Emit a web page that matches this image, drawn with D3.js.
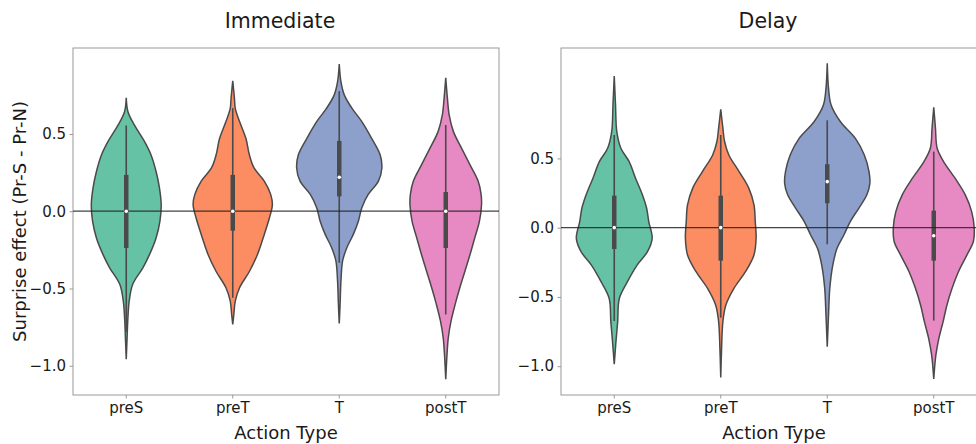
<!DOCTYPE html>
<html>
<head>
<meta charset="utf-8">
<script src="https://cdn.jsdelivr.net/npm/d3@7"></script>
<style>
  html, body { margin: 0; padding: 0; background: #fff; }
  svg { display: block; font-family: "DejaVu Sans", sans-serif; }
</style>
</head>
<body>
<svg id="chart" width="976" height="444"></svg>
<script>
// ---------- data ----------
const categories = ["preS", "preT", "T", "postT"];
const colors = ["#66c2a5", "#fc8d62", "#8da0cb", "#e78ac3"];
const panelTitles = ["Immediate", "Delay"];
const yTicks = [-1.0, -0.5, 0.0, 0.5];
const xLabel = "Action Type";
const yLabel = "Surprise effect (Pr-S - Pr-N)";

// violin outlines: [value, relative density]
const immPreS = [[0.734,0],[0.644,0.04],[0.558,0.19],[0.45,0.43],[0.365,0.58],[0.257,0.70],[0.15,0.78],[0.042,0.82],[-0.066,0.79],[-0.173,0.70],[-0.281,0.545],[-0.366,0.39],[-0.474,0.15],[-0.58,0.07],[-0.71,0.035],[-0.818,0.02],[-0.957,0]];
const immPreT = [[0.844,0],[0.73,0.04],[0.664,0.06],[0.58,0.16],[0.47,0.31],[0.365,0.39],[0.28,0.5],[0.195,0.74],[0.109,0.89],[0.042,0.93],[-0.044,0.86],[-0.15,0.74],[-0.28,0.58],[-0.39,0.39],[-0.495,0.16],[-0.58,0.06],[-0.67,0.025],[-0.732,0]];
const immT = [[0.952,0],[0.837,0.04],[0.751,0.12],[0.665,0.3],[0.58,0.53],[0.472,0.76],[0.365,0.96],[0.28,1.0],[0.195,0.92],[0.109,0.68],[0.023,0.53],[-0.063,0.45],[-0.15,0.33],[-0.235,0.18],[-0.32,0.08],[-0.45,0.04],[-0.6,0.02],[-0.727,0]];
const immPostT = [[0.863,0],[0.727,0.04],[0.623,0.08],[0.515,0.18],[0.408,0.37],[0.3,0.57],[0.195,0.76],[0.109,0.83],[0.042,0.84],[-0.066,0.79],[-0.173,0.68],[-0.28,0.57],[-0.388,0.45],[-0.495,0.33],[-0.603,0.22],[-0.71,0.125],[-0.818,0.06],[-0.925,0.03],[-1.087,0]];

const delPreS = [[1.095,0],[0.886,0.03],[0.693,0.06],[0.573,0.155],[0.477,0.35],[0.357,0.5],[0.237,0.66],[0.14,0.76],[0.044,0.81],[-0.077,0.89],[-0.173,0.78],[-0.269,0.54],[-0.39,0.31],[-0.51,0.12],[-0.68,0.08],[-0.823,0.04],[-0.986,0]];
const delPreT = [[0.855,0],[0.718,0.05],[0.622,0.09],[0.525,0.19],[0.405,0.43],[0.284,0.66],[0.164,0.78],[0.044,0.81],[-0.077,0.83],[-0.197,0.78],[-0.318,0.58],[-0.438,0.31],[-0.558,0.12],[-0.678,0.05],[-0.87,0.02],[-1.082,0]];
const delT = [[1.187,0],[1.006,0.03],[0.886,0.09],[0.765,0.31],[0.645,0.66],[0.525,0.87],[0.405,0.98],[0.32,1.0],[0.237,0.93],[0.14,0.74],[0.044,0.54],[-0.053,0.39],[-0.149,0.23],[-0.27,0.13],[-0.437,0.06],[-0.63,0.03],[-0.859,0]];
const delPostT = [[0.869,0],[0.718,0.04],[0.573,0.08],[0.477,0.23],[0.357,0.5],[0.237,0.74],[0.116,0.89],[-0.005,0.95],[-0.1,0.93],[-0.197,0.78],[-0.318,0.58],[-0.438,0.43],[-0.558,0.31],[-0.678,0.22],[-0.799,0.12],[-0.919,0.05],[-1.092,0]];

// box stats: [whiskerLow, q1, median, q3, whiskerHigh]
const immBoxes = [[-0.78,-0.238,0.0,0.235,0.555],[-0.56,-0.126,0.0,0.235,0.667],[-0.334,0.096,0.22,0.455,0.777],[-0.668,-0.238,0.0,0.124,0.558]];
const delBoxes = [[-0.674,-0.154,0.0,0.231,0.669],[-0.65,-0.238,0.0,0.231,0.669],[-0.12,0.176,0.332,0.458,0.775],[-0.671,-0.238,-0.058,0.123,0.549]];

const immDomain = [-1.189, 1.056];
const delDomain = [-1.208, 1.297];

// ---------- layout ----------
const svg = d3.select("#chart");
const panels = [
  { title: panelTitles[0], profiles: [immPreS, immPreT, immT, immPostT], boxes: immBoxes, domain: immDomain,
    left: 73, right: 499, titleX: 280, showYLabel: true },
  { title: panelTitles[1], profiles: [delPreS, delPreT, delT, delPostT], boxes: delBoxes, domain: delDomain,
    left: 561, right: 987, titleX: 768, showYLabel: false }
];
const plotTop = 48, plotBottom = 395;
const gray = "#4a4a4a";

panels.forEach(p => {
  const x = d3.scaleBand().domain(categories).range([p.left, p.right]).padding(0);
  const y = d3.scaleLinear().domain(p.domain).range([plotBottom, plotTop]);
  const w = d3.scaleLinear().domain([0, 1]).range([0, x.bandwidth() * 0.4]);
  const g = svg.append("g");

  // frame
  g.append("rect").attr("x", p.left).attr("y", plotTop)
    .attr("width", p.right - p.left).attr("height", plotBottom - plotTop)
    .attr("fill", "#fff").attr("stroke", "#999").attr("stroke-width", 1);

  // violins
  categories.forEach((c, i) => {
    const cx = x(c) + x.bandwidth() / 2;
    const area = d3.area()
      .y(d => y(d[0]))
      .x0(d => cx - w(d[1]))
      .x1(d => cx + w(d[1]))
      .curve(d3.curveCatmullRom.alpha(0.5));
    g.append("path").datum(p.profiles[i]).attr("d", area)
      .attr("fill", colors[i]).attr("stroke", gray).attr("stroke-width", 1.5);
  });

  // boxes
  categories.forEach((c, i) => {
    const cx = x(c) + x.bandwidth() / 2;
    const b = p.boxes[i];
    g.append("line").attr("x1", cx).attr("x2", cx).attr("y1", y(b[0])).attr("y2", y(b[4]))
      .attr("stroke", gray).attr("stroke-width", 1.6);
    g.append("line").attr("x1", cx).attr("x2", cx).attr("y1", y(b[1])).attr("y2", y(b[3]))
      .attr("stroke", gray).attr("stroke-width", 4.5);
  });

  // zero line
  g.append("line").attr("x1", p.left).attr("x2", p.right).attr("y1", y(0)).attr("y2", y(0))
    .attr("stroke", "#222").attr("stroke-width", 1.3).attr("stroke-opacity", 0.85);

  // medians
  categories.forEach((c, i) => {
    const cx = x(c) + x.bandwidth() / 2;
    g.append("circle").attr("cx", cx).attr("cy", y(p.boxes[i][2])).attr("r", 1.8).attr("fill", "#fff");
  });

  // axes
  const yAxis = d3.axisLeft(y).tickValues(yTicks).tickSize(3.5).tickPadding(3.5)
    .tickFormat(d => d3.format(".1f")(d).replace("-", "\u2212"));
  const ya = g.append("g").attr("transform", `translate(${p.left},0)`).call(yAxis);
  ya.select(".domain").remove();
  ya.selectAll(".tick line").attr("stroke", "#999");
  ya.selectAll(".tick text").attr("font-size", 15).attr("fill", "#1a1a1a")
    .attr("font-family", "DejaVu Sans");

  const xAxis = d3.axisBottom(x).tickSize(3.5).tickPadding(3.5);
  const xa = g.append("g").attr("transform", `translate(0,${plotBottom})`).call(xAxis);
  xa.select(".domain").remove();
  xa.selectAll(".tick line").attr("stroke", "#999");
  xa.selectAll(".tick text").attr("font-size", 15).attr("fill", "#1a1a1a")
    .attr("font-family", "DejaVu Sans");

  // titles
  svg.append("text").attr("x", p.titleX).attr("y", 28).attr("text-anchor", "middle")
    .attr("font-size", 20.5).attr("fill", "#1a1a1a").text(p.title);
  svg.append("text").attr("x", (p.left + p.right) / 2).attr("y", 439).attr("text-anchor", "middle")
    .attr("font-size", 18).attr("fill", "#1a1a1a").text(xLabel);
  if (p.showYLabel) {
    svg.append("text").attr("transform", `translate(26,${(plotTop + plotBottom) / 2}) rotate(-90)`)
      .attr("text-anchor", "middle").attr("font-size", 18).attr("fill", "#1a1a1a").text(yLabel);
  }
});
</script>
</body>
</html>
